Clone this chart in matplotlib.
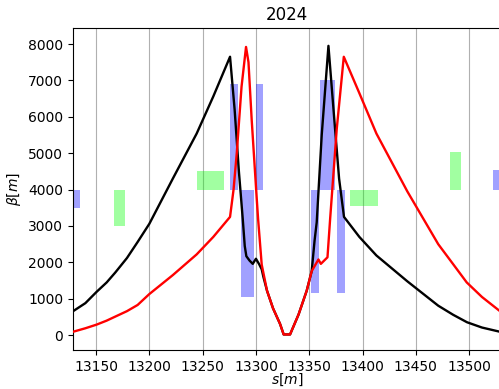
import matplotlib
matplotlib.use("Agg")
import matplotlib.pyplot as plt
from matplotlib.patches import Rectangle

# Beta functions (s in m, beta in m)
s_black = [13128, 13140, 13150.5, 13160, 13168, 13179, 13189, 13200, 13222, 13244.4, 13260, 13275.7,
           13280, 13284, 13287.6, 13289.5, 13291, 13294, 13297, 13300, 13303, 13305.4, 13307, 13310.4,
           13316, 13322.6, 13326, 13332, 13340, 13347.6, 13352.3, 13355, 13357, 13361.7, 13368,
           13374.2, 13378, 13382.6, 13397, 13413, 13442, 13471, 13485, 13498, 13512, 13528]
b_black = [650, 880, 1190, 1450, 1720, 2120, 2560, 3060, 4300, 5540, 6560, 7650,
           6200, 4500, 3200, 2450, 2170, 2050, 1960, 2100, 1950, 1810, 1600, 1220,
           740, 310, 20, 20, 570, 1220, 1760, 2600, 3100, 5500, 7950,
           5670, 4300, 3250, 2700, 2190, 1480, 810, 560, 355, 210, 100]

s_red = [13128, 13140, 13150.5, 13160, 13168, 13179, 13189, 13200, 13222, 13244.4, 13260, 13275.7,
         13279, 13282, 13286.5, 13290.7, 13293, 13296, 13300.7, 13302, 13305.4, 13310.4,
         13316, 13322.6, 13326, 13332, 13340, 13347.6, 13352.3, 13358.6, 13360.9, 13367.1,
         13369.6, 13375.8, 13382.4, 13397, 13413, 13442, 13471, 13485, 13497.7, 13512, 13528]
b_red = [90, 190, 290, 400, 510, 660, 830, 1130, 1650, 2220, 2700, 3250,
         4000, 5000, 6830, 7920, 7500, 5920, 3770, 3200, 1940, 1220,
         740, 310, 20, 20, 570, 1220, 1760, 2080, 1960, 2140,
         3200, 5670, 7650, 6650, 5540, 3950, 2500, 1950, 1450, 1050, 680]

# Magnets: start s, end s, lower beta, upper beta
quad_start = [13122, 13275.7, 13285.7, 13299.8, 13351.7, 13360.4, 13375.8, 13522.7]
quad_end = [13135, 13282.9, 13297.9, 13307.0, 13359.2, 13374.2, 13383.3, 13535]
quad_low = [3500, 4000, 1050, 4000, 1150, 4000, 1150, 4000]
quad_high = [4000, 6900, 4000, 6900, 4000, 7000, 4000, 4530]

bend_start = [13166.9, 13244.4, 13388.2, 13482.0]
bend_end = [13177.2, 13270.0, 13414.2, 13492.4]
bend_low = [3000, 4000, 3550, 4000]
bend_high = [4000, 4500, 4000, 5020]

fig = plt.figure(figsize=(4.99, 3.89), dpi=100)
ax = fig.add_axes([0.1463, 0.1, 0.858, 0.828])

for s0, s1, lo, hi in zip(quad_start, quad_end, quad_low, quad_high):
    ax.add_patch(Rectangle((s0, lo), s1 - s0, hi - lo, facecolor="blue", alpha=0.37,
                           edgecolor="none", zorder=1))
for s0, s1, lo, hi in zip(bend_start, bend_end, bend_low, bend_high):
    ax.add_patch(Rectangle((s0, lo), s1 - s0, hi - lo, facecolor="lime", alpha=0.37,
                           edgecolor="none", zorder=1))

ax.plot(s_black, b_black, color="black", lw=1.7, zorder=3)
ax.plot(s_red, b_red, color="red", lw=1.7, zorder=4)

ax.set_xlim(13128.4, 13530)
ax.set_ylim(-410, 8440)
ax.set_xticks([13150, 13200, 13250, 13300, 13350, 13400, 13450, 13500])
ax.set_yticks([0, 1000, 2000, 3000, 4000, 5000, 6000, 7000, 8000])
ax.grid(axis="x", color="#b0b0b0", lw=0.8, zorder=0)
ax.set_axisbelow(True)
ax.tick_params(labelsize=10)
ax.set_xlabel(r"$s[m]$", labelpad=-1.5)
ax.set_ylabel(r"$\beta[m]$")
ax.set_title("2024", fontsize=12)

fig.savefig("out.png", dpi=100)
